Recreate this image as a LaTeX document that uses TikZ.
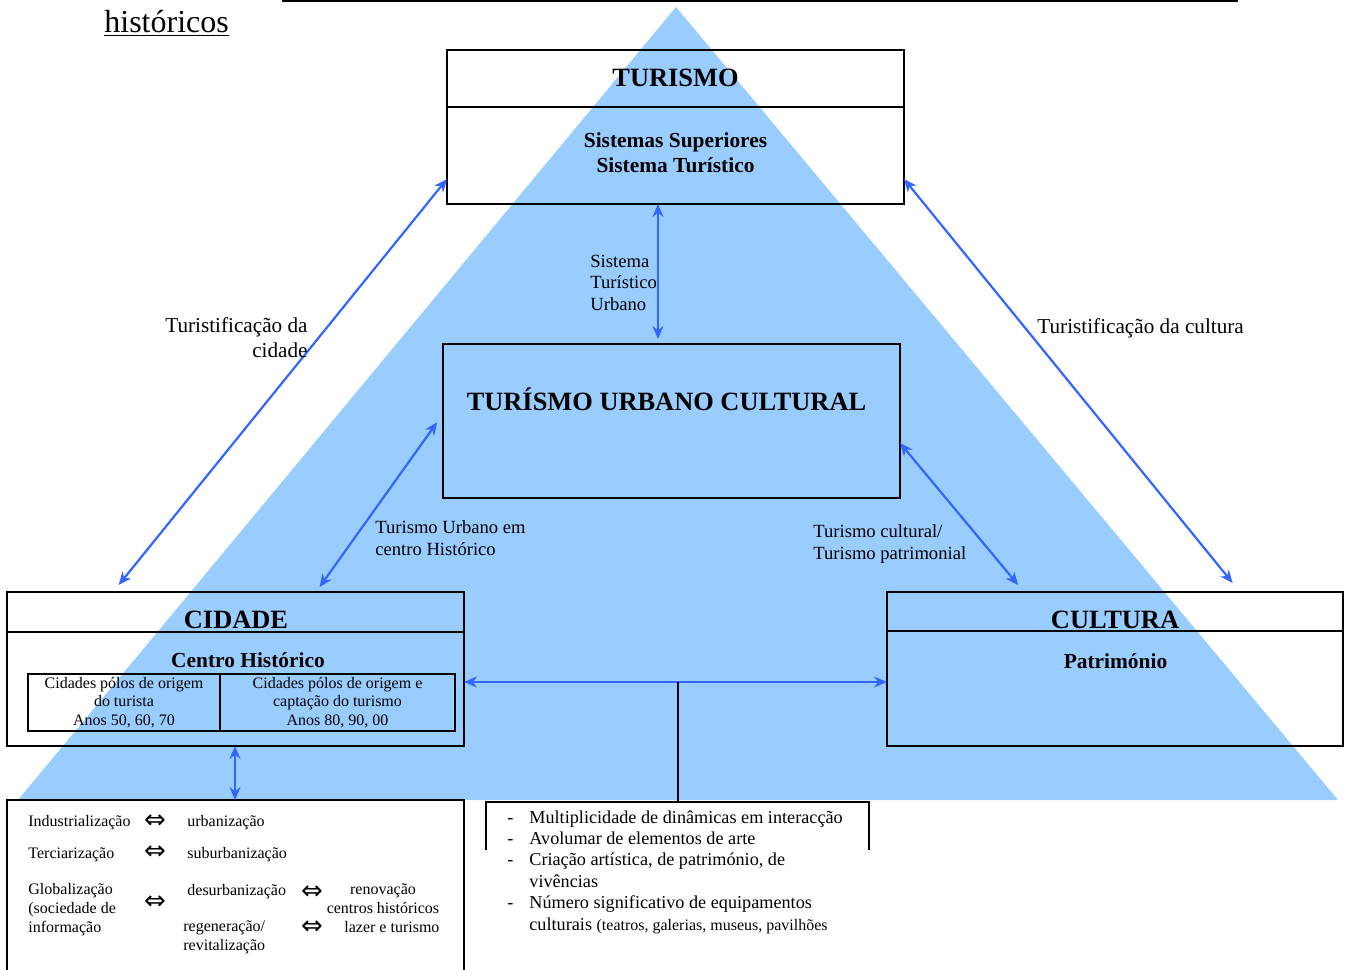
\documentclass[tikz,border=0pt]{standalone}
\usepackage{fontspec}
\setmainfont{Liberation Serif}
\newfontfamily\symfont{DejaVu Sans}
\usetikzlibrary{arrows.meta}
\definecolor{triblue}{RGB}{153,204,255}
\definecolor{arrowblue}{RGB}{51,102,255}
\begin{document}
\begin{tikzpicture}[x=0.5pt, y=-0.5pt,
  box/.style={draw, line width=1pt, inner sep=0pt, outer sep=0pt},
  link/.style={draw=arrowblue, line width=1.1pt, {Stealth[length=6.5pt,width=5.5pt]}-{Stealth[length=6.5pt,width=5.5pt]}},
  bigtitle/.style={font=\fontsize{13.2}{15}\selectfont\bfseries, inner sep=0pt, anchor=base},
  subtitle/.style={font=\fontsize{10.7}{12.4}\selectfont\bfseries, inner sep=0pt, align=center, anchor=base},
  lbl/.style={font=\fontsize{10.6}{12.2}\selectfont, inner sep=0pt},
  smalllbl/.style={font=\fontsize{9.3}{10.7}\selectfont, inner sep=0pt, align=left, anchor=base west},
  tinytext/.style={font=\fontsize{8}{9.3}\selectfont, inner sep=0pt},
  equiv/.style={font=\symfont\fontsize{13}{13}\selectfont, inner sep=0pt}]
\useasboundingbox (0,0) rectangle (1346,970);
\fill[triblue] (676,7) -- (18,800) -- (1338,800) -- cycle;
\path[draw, line width=1pt] (282,1) -- (1238,1);
\node[font=\fontsize{16}{18}\selectfont, inner sep=0pt, anchor=base west] (hist) at (104,32) {\underline{históricos}};

% boxes
\node[box, minimum width=228.5pt, minimum height=77pt] (turismo) at (675.5,127) {};
\path[draw, line width=1pt] (turismo.west |- 0,107) -- (turismo.east |- 0,107);
\node[bigtitle] (turismoT) at (675.5,86) {TURISMO};
\node[subtitle] (sistemas) at (675.5,172) {Sistemas Superiores\\Sistema Turístico};

\node[box, minimum width=228.5pt, minimum height=77pt] (urbano) at (671.5,421) {};
\node[bigtitle] (urbanoT) at (666.5,410) {TURÍSMO URBANO CULTURAL};

\node[box, minimum width=228.5pt, minimum height=77pt] (cidade) at (235.5,669) {};
\path[draw, line width=1pt] (cidade.west |- 0,632) -- (cidade.east |- 0,632);
\node[bigtitle] (cidadeT) at (236,628) {CIDADE};
\node[subtitle] (centro) at (248,667) {Centro Histórico};
\node[box, tinytext, align=center, minimum width=96pt, minimum height=28.5pt] (anosA) at (124,702.5) {Cidades pólos de origem\\do turista\\Anos 50, 60, 70};
\node[box, tinytext, align=center, minimum width=117.5pt, minimum height=28.5pt] (anosB) at (337.5,702.5) {Cidades pólos de origem e\\captação do turismo\\Anos 80, 90, 00};

\node[box, minimum width=228pt, minimum height=77pt] (cultura) at (1115,669) {};
\path[draw, line width=1pt] (cultura.west |- 0,631) -- (cultura.east |- 0,631);
\node[bigtitle] (culturaT) at (1115,628) {CULTURA};
\node[subtitle] (patrim) at (1115.5,668) {Património};

\node[box, minimum width=228.5pt, minimum height=100pt] (processos) at (235.5,900) {};
\node[inner sep=0pt, minimum width=191.5pt, minimum height=24pt] (dinamicas) at (677.5,826) {};
\path[draw, line width=1pt] (dinamicas.south west) -- (dinamicas.north west) -- (dinamicas.north east) -- (dinamicas.south east);
\coordinate (juncao) at (678,682);

% connectors
\path[link, shorten >=4.5pt] (turismo.west |- 0,179) -- (cidade.north -| 113,0);
\path[link, shorten >=5.8pt] (turismo.east |- 0,179) -- (cultura.north -| 1240,0);
\path[link, shorten <=5pt, shorten >=3pt] (urbano.west |- 0,414) -- (cidade.north -| 316,0);
\path[link, shorten >=4.5pt] (urbano.east |- 0,443) -- (cultura.north -| 1024,0);
\path[link, shorten >=2.5pt] (turismo.south -| 658,0) -- (urbano.north -| 658,0);
\path[link] (cidade.east |- 0,682) -- (cultura.west |- 0,682);
\path[link] (cidade.south -| 235,0) -- (processos.north -| 235,0);
\path[draw, line width=1pt] (dinamicas.north -| juncao) -- (juncao);

% labels
\node[lbl, align=right, anchor=base east] (turCidade) at (308,357) {Turistificação da\\cidade};
\node[lbl, anchor=base west] (turCultura) at (1037,333) {Turistificação da cultura};
\node[smalllbl] (sistUrb) at (590,310) {Sistema\\Turístico\\Urbano};
\node[smalllbl] (turUrb) at (375,555) {Turismo Urbano em\\centro Histórico};
\node[smalllbl] (turPatr) at (813,559) {Turismo cultural/\\Turismo patrimonial};

% processos
\node[tinytext, anchor=base west] (indus) at (28,826) {Industrialização};
\node[equiv] (eq1) at (155,822) {⇔};
\node[tinytext, anchor=base west] (urbz) at (187,826) {urbanização};
\node[tinytext, anchor=base west] (terc) at (28,858) {Terciarização};
\node[equiv] (eq2) at (155,853) {⇔};
\node[tinytext, anchor=base west] (suburb) at (187,858) {suburbanização};
\node[tinytext, anchor=base west, align=left] (glob) at (28,932) {Globalização\\(sociedade de\\informação};
\node[equiv] (eq3) at (155,903) {⇔};
\node[tinytext, anchor=base west] (desurb) at (187,895) {desurbanização};
\node[tinytext, anchor=base west, align=left] (regen) at (183,950) {regeneração/\\revitalização};
\node[equiv] (eq4) at (312,893) {⇔};
\node[tinytext, anchor=base, align=center] (renov) at (383,913) {renovação\\centros históricos};
\node[equiv] (eq5) at (312,928) {⇔};
\node[tinytext, anchor=base west] (lazer) at (344,932) {lazer e turismo};

% dinamicas
\node[inner sep=0pt, anchor=base west, font=\fontsize{9.1}{10.7}\selectfont] (dinText) at (507,823) {\begin{tabular}[t]{@{}p{11pt}@{}l@{}}
- & Multiplicidade de dinâmicas em interacção\\
- & Avolumar de elementos de arte\\
- & Criação artística, de património, de\\
  & vivências\\
- & Número significativo de equipamentos\\
  & culturais {\fontsize{8}{10.7}\selectfont(teatros, galerias, museus, pavilhões}
\end{tabular}};
\end{tikzpicture}
\end{document}
